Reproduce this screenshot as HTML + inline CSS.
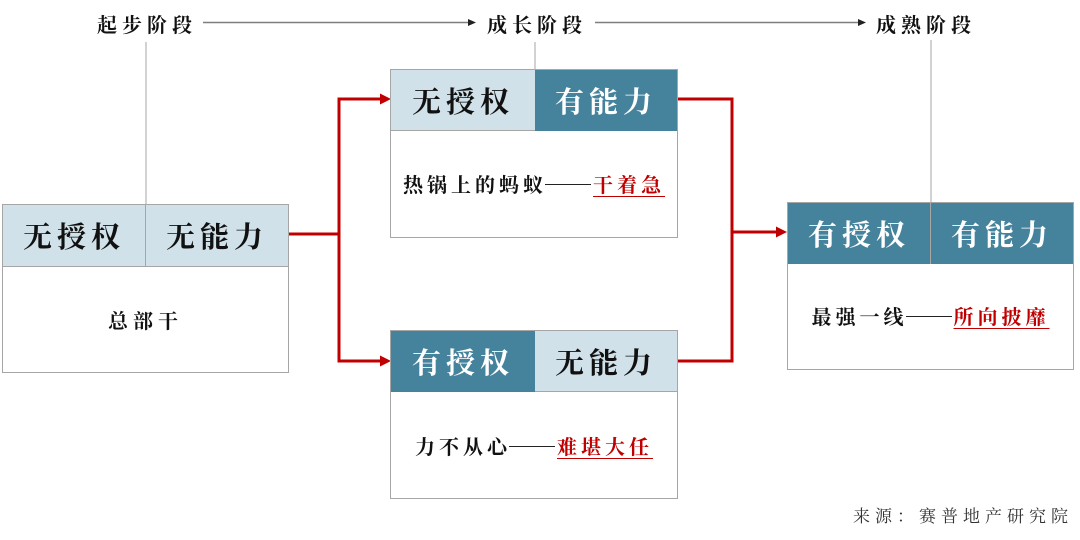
<!DOCTYPE html>
<html>
<head>
<meta charset="utf-8">
<style>
html,body{margin:0;padding:0;background:#fff;}
body{width:1080px;height:540px;position:relative;overflow:hidden;font-family:"Liberation Serif","Noto Serif CJK SC",serif;}
.abs{position:absolute;}
.box{position:absolute;box-sizing:border-box;border:1px solid #a6a6a6;background:#fff;}
.hd{position:absolute;top:0;height:61px;display:flex;align-items:center;justify-content:center;font-size:29px;font-weight:700;letter-spacing:5px;box-sizing:border-box;}
.lt{background:#d0e1e9;color:#111;}
.dk{background:#45829c;color:#fff;}
.body{position:absolute;left:0;right:0;display:flex;align-items:center;justify-content:center;font-size:20px;font-weight:700;color:#111;white-space:nowrap;letter-spacing:4px;}
.dash{display:inline-block;width:46px;border-top:1.3px solid #222;vertical-align:middle;margin:0 2px 0 -2px;position:relative;top:1px;}
.red{color:#c00000;text-decoration:underline;text-underline-offset:4px;text-decoration-thickness:1px;letter-spacing:4px;}
.stage{position:absolute;top:9px;font-size:20px;font-weight:700;letter-spacing:5px;color:#111;white-space:nowrap;}
.src{position:absolute;left:853px;top:502px;font-size:17px;letter-spacing:5px;color:#333;white-space:nowrap;}
</style>
</head>
<body>

<svg class="abs" style="left:0;top:0" width="1080" height="540">
  <line x1="203" y1="22.5" x2="470" y2="22.5" stroke="#7f7f7f" stroke-width="1.5"/>
  <polygon points="476,22.5 468,19 468,26" fill="#222"/>
  <line x1="595" y1="22.5" x2="860" y2="22.5" stroke="#7f7f7f" stroke-width="1.5"/>
  <polygon points="866,22.5 858,19 858,26" fill="#222"/>
  <line x1="146" y1="42" x2="146" y2="204" stroke="#a6a6a6" stroke-width="1"/>
  <line x1="535" y1="42" x2="535" y2="69" stroke="#a6a6a6" stroke-width="1"/>
  <line x1="931" y1="40" x2="931" y2="202" stroke="#a6a6a6" stroke-width="1"/>
  <g stroke="#c00000" stroke-width="3" fill="none">
    <line x1="288" y1="234" x2="339" y2="234"/>
    <line x1="339" y1="97.5" x2="339" y2="362.5"/>
    <line x1="339" y1="99" x2="382" y2="99"/>
    <line x1="339" y1="361" x2="382" y2="361"/>
    <line x1="677" y1="99" x2="732" y2="99"/>
    <line x1="677" y1="361" x2="732" y2="361"/>
    <line x1="732" y1="97.5" x2="732" y2="362.5"/>
    <line x1="732" y1="232" x2="779" y2="232"/>
  </g>
  <polygon points="391,99 380,93.5 380,104.5" fill="#c00000"/>
  <polygon points="391,361 380,355.5 380,366.5" fill="#c00000"/>
  <polygon points="787,232 776,226.5 776,237.5" fill="#c00000"/>
</svg>

<div class="stage" style="left:97px;">起步阶段</div>
<div class="stage" style="left:487px;">成长阶段</div>
<div class="stage" style="left:876px;">成熟阶段</div>

<div class="box" style="left:2px;top:204px;width:287px;height:169px;">
  <div class="hd lt" style="left:0;width:143px;border-right:1px solid #a6a6a6;border-bottom:1px solid #a6a6a6;height:62px;">无授权</div>
  <div class="hd lt" style="left:143px;width:142px;border-bottom:1px solid #a6a6a6;height:62px;">无能力</div>
  <div class="body" style="top:62px;height:104px;letter-spacing:5px;">总部干</div>
</div>

<div class="box" style="left:390px;top:69px;width:288px;height:169px;">
  <div class="hd lt" style="left:0;width:144px;border-bottom:1px solid #a6a6a6;">无授权</div>
  <div class="hd dk" style="left:144px;width:142px;">有能力</div>
  <div class="body" style="top:61px;height:104px;"><span>热锅上的蚂蚁</span><span class="dash"></span><span class="red">干着急</span></div>
</div>

<div class="box" style="left:390px;top:330px;width:288px;height:169px;">
  <div class="hd dk" style="left:0;width:144px;">有授权</div>
  <div class="hd lt" style="left:144px;width:142px;border-bottom:1px solid #a6a6a6;">无能力</div>
  <div class="body" style="top:61px;height:106px;"><span>力不从心</span><span class="dash"></span><span class="red">难堪大任</span></div>
</div>

<div class="box" style="left:787px;top:202px;width:287px;height:168px;">
  <div class="hd dk" style="left:0;width:143px;border-right:1px solid #a6a6a6;">有授权</div>
  <div class="hd dk" style="left:143px;width:142px;">有能力</div>
  <div class="body" style="top:61px;height:103px;"><span>最强一线</span><span class="dash"></span><span class="red">所向披靡</span></div>
</div>

<div class="src">来源：赛普地产研究院</div>

</body>
</html>
